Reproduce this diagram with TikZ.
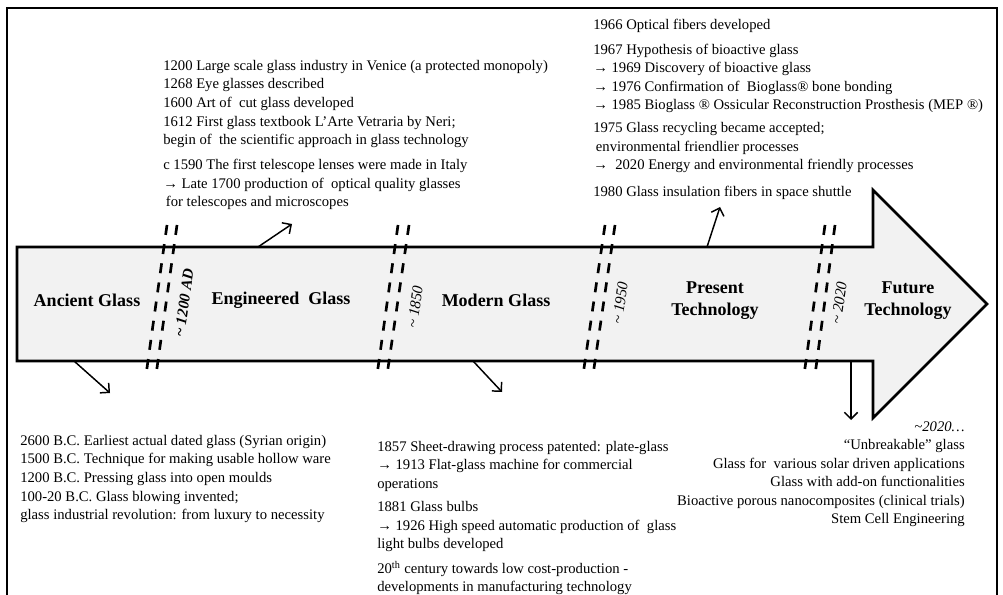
\documentclass[tikz,border=0pt]{standalone}
\usepackage{fontspec}
\setmainfont{Liberation Serif}
\usetikzlibrary{arrows.meta,positioning}
\definecolor{glassfill}{HTML}{F2F2F2}

\begin{document}
\begin{tikzpicture}[
  x=0.75pt, y=-0.75pt,
  note/.style={font=\fontsize{11}{13.9}\selectfont, align=left, anchor=north west, inner sep=0pt},
  era/.style={font=\fontsize{13.5}{16.5}\selectfont\bfseries, align=center, inner sep=0pt},
  year/.style={font=\fontsize{11.5}{13}\selectfont\itshape, rotate=82, inner sep=0pt},
  cut/.style={line width=2pt, dash pattern=on 7.5pt off 7pt},
  conn/.style={-{Straight Barb[length=5pt,width=10pt]}, line width=1.1pt},
]
\useasboundingbox (0,0) rectangle (1003,595);
\clip (0,0) rectangle (1003,595);

% ---------------- frame ----------------
\draw[line width=1.5pt] (7,600) -- (7,8) -- (997,8) -- (997,600);

% ---------------- timeline arrow ----------------
\draw[line width=2pt, fill=glassfill] (17,247) -- (873,247) -- (873,190) -- (987,304)
  -- (873,418) -- (873,361) -- (17,361) -- cycle;

\node[era] (ancient)    at (87,300)  {Ancient Glass};
\node[era] (engineered) at (281,300) {Engineered\ \ Glass};
\node[era] (modern)     at (496,300) {Modern Glass};
\node[era] (present)    at (715,301) {Present\\Technology};
\node[era] (future)     at (908,301) {Future\\Technology};

% ---------------- period cuts ----------------
\draw[cut] (167,225) -- (146,375);
\draw[cut] (177,225) -- (156,375);
\node[year, font=\fontsize{11.5}{13}\selectfont\bfseries\itshape] (y1200) at (184,303) {\textasciitilde{} 1200 AD};

\draw[cut] (398,225) -- (377,375);
\draw[cut] (409,225) -- (387,375);
\node[year] (y1850) at (415,307) {\textasciitilde{} 1850};

\draw[cut] (605,225) -- (583,375);
\draw[cut] (615,225) -- (593,375);
\node[year] (y1950) at (620,303) {\textasciitilde{} 1950};

\draw[cut] (825,225) -- (804,375);
\draw[cut] (835,225) -- (815,375);
\node[year] (y2020) at (839,303) {\textasciitilde{} 2020};

% ---------------- notes ----------------
\node[note] (engNotes) at (163,60) {1200 Large scale glass industry in Venice (a protected monopoly)\\
1268 Eye glasses described\\
1600 Art of\ \ cut glass developed\\
1612 First glass textbook L’Arte Vetraria by Neri;\\
begin of\ \ the scientific approach in glass technology\\[5pt]
c 1590 The first telescope lenses were made in Italy\\
→ Late 1700 production of\ \ optical quality glasses\\
\hspace*{2pt}for telescopes and microscopes};

\node[note] (presNotes) at (593,19) {1966 Optical fibers developed\\[4.5pt]
1967 Hypothesis of bioactive glass\\
→ 1969 Discovery of bioactive glass\\
→ 1976 Confirmation of\ \ Bioglass® bone bonding\\
→ 1985 Bioglass ® Ossicular Reconstruction Prosthesis (MEP ®)\\[3.5pt]
1975 Glass recycling became accepted;\\
\hspace*{2pt}environmental friendlier processes\\
→\ \ 2020 Energy and environmental friendly processes\\[6pt]
1980 Glass insulation fibers in space shuttle};

\node[note] (ancNotes) at (20,435) {2600 B.C. Earliest actual dated glass (Syrian origin)\\
1500 B.C. Technique for making usable hollow ware\\
1200 B.C. Pressing glass into open moulds\\
100-20 B.C. Glass blowing invented;\\
glass industrial revolution: from luxury to necessity};

\node[note] (modNotes) at (377,441) {1857 Sheet-drawing process patented: plate-glass\\
→ 1913 Flat-glass machine for commercial\\
operations\\[3.5pt]
1881 Glass bulbs\\
→ 1926 High speed automatic production of\ \ glass\\
light bulbs developed\\[4.5pt]
20\textsuperscript{th} century towards low cost-production -\\
developments in manufacturing technology};

\node[note, align=right, anchor=north east] (futNotes) at (965,421) {\textit{\textasciitilde2020…}\\
“Unbreakable” glass\\
Glass for\ \ various solar driven applications\\
Glass with add-on functionalities\\
Bioactive porous nanocomposites (clinical trials)\\
Stem Cell Engineering};

% ---------------- pointers ----------------
\coordinate (ancFrom)  at (74,361);  \coordinate (ancTo)  at (110,393);
\coordinate (engFrom)  at (258,247); \coordinate (engTo)  at (292,224);
\coordinate (modFrom)  at (473,361); \coordinate (modTo)  at (502,392);
\coordinate (presFrom) at (707,247); \coordinate (presTo) at (720,207);
\coordinate (futFrom)  at (851,361); \coordinate (futTo)  at (851,420);

\draw[conn] (ancFrom) -- (ancTo);
\draw[conn] (engFrom) -- (engTo);
\draw[conn] (modFrom) -- (modTo);
\draw[conn] (presFrom) -- (presTo);
\draw[conn] (futFrom) -- (futTo);
\end{tikzpicture}
\end{document}
